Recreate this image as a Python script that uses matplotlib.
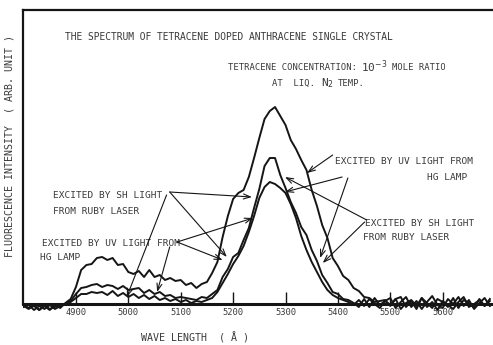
import numpy as np
import matplotlib
matplotlib.use("Agg")
import matplotlib.pyplot as plt

# wavelength grid (angstrom), 10 A steps
wavelength = np.arange(4800, 5700, 10)

# tallest curve
curve_tall = [
    -2, -5, -1, -6, -2, -6, -1, -4, 1, 5,
    17, 34, 39, 40, 46, 47, 44, 46, 39, 40,
    32, 30, 33, 27, 34, 27, 29, 24, 26, 23,
    24, 19, 21, 16, 20, 22, 31, 42, 67, 88,
    105, 111, 114, 127, 146, 166, 185, 193, 197, 188,
    179, 164, 155, 144, 134, 114, 98, 79, 66, 46,
    38, 28, 24, 16, 13, 7, 6, 2, 3, 4,
    -2, 5, 7, -3, 3, -5, 6, 1, -4, 5,
    2, -3, 6, -4, 4, 1, -4, 5, -2, 3,
]
# middle curve
curve_mid = [
    -3, -1, -6, -2, -5, -1, -5, -2, 0, 3,
    10, 16, 17, 19, 20, 17, 19, 18, 15, 18,
    14, 15, 16, 11, 14, 10, 12, 8, 9, 6,
    7, 6, 5, 4, 7, 6, 10, 14, 27, 35,
    47, 51, 64, 76, 96, 115, 138, 146, 146, 129,
    116, 102, 91, 77, 69, 54, 43, 29, 21, 12,
    10, 5, 4, 1, -3, 5, -3, 6, -1, 3,
    6, -4, 2, 7, -3, 3, -5, 2, 8, -1,
    -4, 5, 0, 7, -2, 4, -5, 1, 6, -2,
]
# lowest curve
curve_low = [
    -1, -4, -2, -6, -1, -5, -3, 0, -1, 2,
    6, 10, 10, 12, 11, 12, 9, 13, 8, 11,
    7, 10, 6, 9, 5, 8, 4, 6, 3, 5,
    2, 4, 1, 3, 2, 4, 6, 12, 21, 30,
    40, 48, 58, 72, 88, 106, 117, 122, 120, 116,
    111, 100, 86, 68, 54, 42, 32, 22, 14, 9,
    6, 4, 2, -1, 4, -2, 5, 0, -4, 3,
    -1, 5, -5, 1, 4, -2, 6, -3, 2, -6,
    3, -1, -5, 2, 7, -3, 0, 4, -2, 5,
]

xticks = [4900, 5000, 5100, 5200, 5300, 5400, 5500, 5600]

ink = '#151515'
txt = '#3a3a3a'
mono = 'DejaVu Sans Mono'

fig = plt.figure(figsize=(4.93, 3.45), dpi=100)
ax = fig.add_axes([23/493, 15/345, 1 - 23/493, 320/345])

for c in (curve_low, curve_mid, curve_tall):
    ax.plot(wavelength, c, color=ink, lw=1.4)

ax.set_xlim(4799, 5696)
ax.set_ylim(-26, 294)

ax.spines['right'].set_visible(False)
ax.spines['bottom'].set_position(('data', 0))
ax.spines['bottom'].set_linewidth(2.2)
ax.spines['left'].set_bounds(0, 294)
ax.spines['left'].set_linewidth(1.6)
ax.spines['top'].set_linewidth(1.6)
for s in ax.spines.values():
    s.set_color(ink)

ax.set_xticks(xticks)
ax.set_xticklabels([str(t) for t in xticks], family=mono, fontsize=6.3, color=txt)
ax.tick_params(axis='x', direction='in', length=9, width=1, color=ink, pad=3)
ax.set_yticks([])

# texts
ax.text(4879, 267, 'THE SPECTRUM OF TETRACENE DOPED ANTHRACENE SINGLE CRYSTAL',
        family=mono, fontsize=6.9, color=txt, va='center')
ax.text(5190, 236, 'TETRACENE CONCENTRATION:', family=mono, fontsize=6.4, color=txt, va='center')
ax.text(5445, 237, '10$^{-3}$', family=mono, fontsize=8, color=txt, va='center')
ax.text(5503, 236, 'MOLE RATIO', family=mono, fontsize=6.4, color=txt, va='center')
ax.text(5274, 221, 'AT  LIQ.', family=mono, fontsize=6.4, color=txt, va='center')
ax.text(5367, 221, 'N$_2$', family=mono, fontsize=8, color=txt, va='center')
ax.text(5400, 221, 'TEMP.', family=mono, fontsize=6.4, color=txt, va='center')

ax.text(4856, 108, 'EXCITED BY SH LIGHT', family=mono, fontsize=6.8, color=txt, va='center')
ax.text(4856, 93, 'FROM RUBY LASER', family=mono, fontsize=6.8, color=txt, va='center')
ax.text(4835, 60, 'EXCITED BY UV LIGHT FROM', family=mono, fontsize=6.8, color=txt, va='center')
ax.text(4831, 46, 'HG LAMP', family=mono, fontsize=6.8, color=txt, va='center')

ax.text(5394, 142, 'EXCITED BY UV LIGHT FROM', family=mono, fontsize=6.8, color=txt, va='center')
ax.text(5570, 127, 'HG LAMP', family=mono, fontsize=6.8, color=txt, va='center')
ax.text(5451, 80, 'EXCITED BY SH LIGHT', family=mono, fontsize=6.8, color=txt, va='center')
ax.text(5448, 66, 'FROM RUBY LASER', family=mono, fontsize=6.8, color=txt, va='center')

# pointer lines (start -> end)
arrows = [
    ((5079, 112), (5236, 107)),
    ((5079, 112), (5188, 47)),
    ((5073, 109), (4997, 7)),
    ((5093, 62), (5238, 86)),
    ((5093, 62), (5180, 44)),
    ((5079, 57), (5055, 12)),
    ((5390, 149), (5341, 131)),
    ((5408, 127), (5299, 112)),
    ((5419, 126), (5366, 46)),
    ((5455, 84), (5299, 127)),
    ((5451, 82), (5371, 41)),
]
for start, end in arrows:
    ax.annotate('', xy=end, xytext=start,
                arrowprops=dict(arrowstyle='->,head_length=0.5,head_width=0.18',
                                lw=0.8, color=ink, shrinkA=0, shrinkB=0))

fig.text(195/493, 1 - 338/345, 'WAVE LENGTH  ( Å )', family=mono, fontsize=7.2,
         color=txt, ha='center', va='center')
fig.text(10/493, 1 - 146/345, 'FLUORESCENCE INTENSITY  ( ARB. UNIT )', family=mono,
         fontsize=7.2, color=txt, ha='center', va='center', rotation=90)

fig.savefig('out.png', dpi=100, facecolor='white')
